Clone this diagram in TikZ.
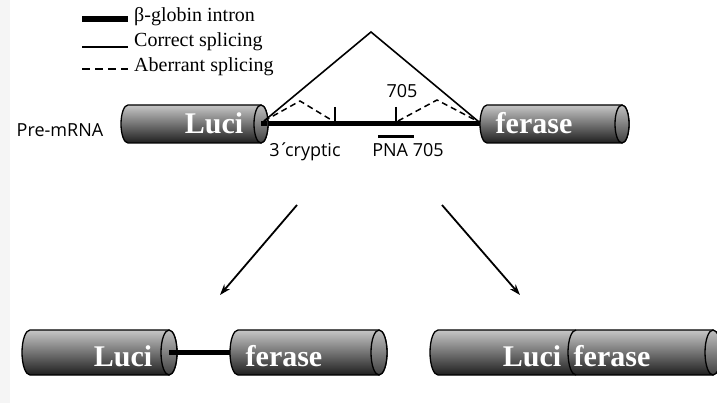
\documentclass[tikz,border=0pt]{standalone}
\usepackage{fontspec}
\setmainfont{Liberation Serif}
\newfontfamily\labelfont{Open Sans}
\usetikzlibrary{arrows.meta}

\tikzset{
  cylbody/.style={draw=black, line width=1.3pt, top color=black!22, bottom color=black!88, middle color=black!55},
  cylend/.style={draw=black, line width=1.3pt, top color=black!25, bottom color=black!75},
  exontext/.style={text=white, font=\bfseries\fontsize{30}{30}\selectfont, inner sep=0pt, anchor=base},
  lbl/.style={font=\labelfont\fontsize{18}{18}\selectfont, inner sep=0pt, anchor=base},
  legendtext/.style={font=\fontsize{20}{20}\selectfont, anchor=base west, inner sep=0pt},
  intron/.style={line width=5pt},
  splice/.style={line width=1.6pt},
  aberrant/.style={line width=1.5pt, dash pattern=on 6pt off 4pt},
  legenddash/.style={line width=1.7pt, dash pattern=on 8pt off 5pt},
  sitetick/.style={line width=2.8pt},
  flow/.style={line width=1.8pt, -{Stealth[length=11pt,width=7.5pt]}},
}

% exon cylinder: #1 name, #2 left x, #3 x of the end ellipse centre, #4 axis y, #5 half height, #6 end half width
\newcommand\exoncyl[6]{%
  \path[cylbody] (#2+#6,#4-#5) -- (#3,#4-#5)
    arc[start angle=-90, end angle=90, x radius=#6, y radius=#5]
    -- (#2+#6,#4+#5)
    arc[start angle=90, end angle=270, x radius=#6, y radius=#5] -- cycle;
  \draw[cylend] (#3,#4) ellipse[x radius=#6, y radius=#5];
  \coordinate (#1-start) at (#2,#4);
  \coordinate (#1-end) at (#3,#4);
}

\begin{document}
\begin{tikzpicture}[x=1pt, y=-1pt]
\useasboundingbox (0,0) rectangle (717,403);
\clip (0,0) rectangle (717,403);
\fill[black!4] (0,0) rectangle (10,403);

% legend
\coordinate (lgA1) at (82,19);  \coordinate (lgA2) at (128,19);
\coordinate (lgB1) at (82,47);  \coordinate (lgB2) at (128,47);
\coordinate (lgC1) at (82,69);  \coordinate (lgC2) at (128,69);
\draw[line width=6pt] (lgA1) -- (lgA2);
\draw[splice] (lgB1) -- (lgB2);
\draw[legenddash] (lgC1) -- (lgC2);
\node[legendtext] (lgA) at (134,22) {β-globin intron};
\node[legendtext] (lgB) at (134,47) {Correct splicing};
\node[legendtext] (lgC) at (134,72) {Aberrant splicing};

% pre-mRNA
\node[lbl] (premrna) at (60,137) {Pre-mRNA};
\coordinate (apex) at (371,32);
\coordinate (donor) at (264,121);
\coordinate (acceptor) at (479,122);
\coordinate (crypticsite) at (335,107);
\coordinate (site705) at (396,107);
\coordinate (abA) at (300,101);
\coordinate (abB) at (437,100);

\draw[intron] (261,124) -- (481,124);
\exoncyl{luciA}{121}{261}{124}{19}{7}
\exoncyl{feraseA}{480}{622}{124}{19}{7}
\draw[intron] (luciA-end) -- ++(6,0);

\draw[splice, line join=miter] (donor) -- (apex) -- (acceptor);
\draw[sitetick] (crypticsite) -- (335,125);
\draw[sitetick] (site705) -- (396,125);
\draw[aberrant] (donor) -- (abA) -- (333,121);
\draw[aberrant] (398,121) -- (abB) -- (acceptor);
\draw[line width=3pt] (378,137) coordinate (pnaA) -- (414,137) coordinate (pnaB);

\node[exontext] (luciAtext) at (214,134) {Luci};
\node[exontext] (feraseAtext) at (534,134) {ferase};
\node[lbl] (n705) at (402,98) {705};
\node[lbl] (cryptic) at (305,157) {3\kern-1pt´\kern-4pt cryptic};
\node[lbl] (pna) at (408,157) {PNA 705};

% outcomes
\coordinate (flowLa) at (297,205); \coordinate (flowLb) at (220,295);
\coordinate (flowRa) at (442,205); \coordinate (flowRb) at (520,295);
\draw[flow] (flowLa) -- (flowLb);
\draw[flow] (flowRa) -- (flowRb);

% aberrantly spliced product
\exoncyl{luciB}{22}{169}{352.5}{22.5}{8}
\exoncyl{feraseB}{230}{379}{352.5}{22.5}{8}
\draw[intron] (luciB-end) -- (feraseB-start);
\node[exontext] (luciBtext) at (123,366) {Luci};
\node[exontext] (feraseBtext) at (284,366) {ferase};

% correctly spliced product
\exoncyl{luciC}{430}{713}{352.5}{22.5}{8}
\draw[line width=1.3pt] (576,330) arc[start angle=-90, end angle=-270, x radius=8, y radius=22.5];
\node[exontext] (luciCtext) at (532,366) {Luci};
\node[exontext] (feraseCtext) at (612,366) {ferase};
\end{tikzpicture}
\end{document}
